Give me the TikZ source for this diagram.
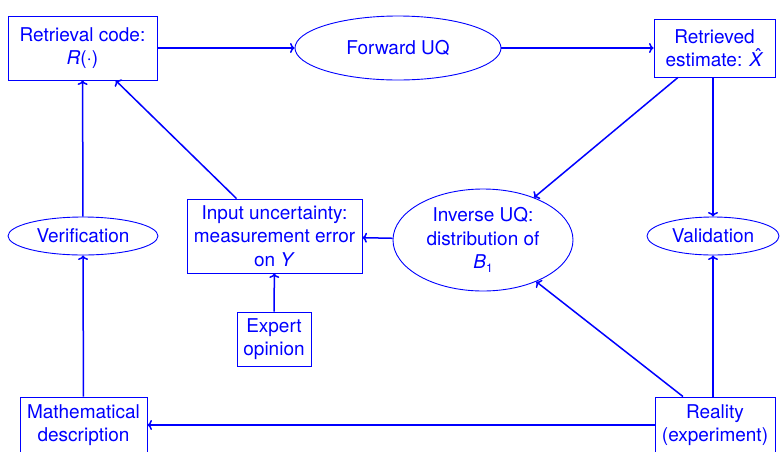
\documentclass[tikz,border=0pt]{standalone}
\usepackage{fontspec}
\setmainfont{TeX Gyre Heros}
\usetikzlibrary{shapes.geometric,calc,arrows.meta}
\newcommand{\hatX}{\makebox[0pt][l]{\hspace{0.31em}\raisebox{0.19em}{\char"02C6}}\textit{X}}
\begin{document}
\begin{tikzpicture}[x=1pt,y=-1pt,
  every node/.style={text=blue, font=\fontsize{19}{23.5}\selectfont, align=center, inner sep=0pt},
  bx/.style={draw=blue, line width=0.9pt, rectangle},
  ell/.style={draw=blue, line width=0.9pt, ellipse},
  conn/.style={draw=blue, line width=1.5pt, -{To[length=4.5pt,width=10pt]}}]
\useasboundingbox (0,0) rectangle (780,451);
\node[bx, minimum width=149pt, minimum height=64pt] (ret) at (82.5,48) {Retrieval code:\\\textit{R}(·)};
\node[ell, minimum width=206pt, minimum height=64pt] (fwd) at (398,48) {Forward UQ};
\node[bx, minimum width=121pt, minimum height=58pt] (est) at (714.5,48) {Retrieved\\estimate: \hatX};
\node[ell, minimum width=150pt, minimum height=38pt] (ver) at (83,236) {Verification};
\node[bx, minimum width=175pt, minimum height=74pt] (inp) at (274.5,236) {Input uncertainty:\\measurement error\\on \textit{Y}};
\node[bx, minimum width=74pt, minimum height=54pt] (exp) at (274,339) {Expert\\opinion};
\node[ell, minimum width=180pt, minimum height=102pt] (inv) at (483,240) {Inverse UQ:\\distribution of\\\textit{B}\raisebox{-0.4ex}{\fontsize{12}{12}\selectfont 1}};
\node[ell, minimum width=132pt, minimum height=38pt] (val) at (713,236) {Validation};
\node[bx, minimum width=127pt, minimum height=56pt] (math) at (83.5,425) {Mathematical\\description};
\node[bx, minimum width=120pt, minimum height=56pt] (real) at (715,425) {Reality\\(experiment)};
\draw[conn] (ret) -- (fwd);
\draw[conn] (fwd) -- (est);
\draw[conn] (ver) -- (ret);
\draw[conn] (math) -- (ver);
\draw[conn] ($(inp.north)+(-38,0)$) -- (ret);
\draw[conn] (exp) -- (inp);
\draw[conn] (inv) -- (inp);
\draw[conn] ($(est.south)+(-36.5,0)$) -- (inv);
\draw[conn] (est.south -| val.north) -- (val.north);
\draw[conn] (real.north -| val.south) -- (val.south);
\draw[conn] ($(real.north)+(-32,0)$) -- (inv);
\draw[conn] (real) -- (math);
\end{tikzpicture}
\end{document}
